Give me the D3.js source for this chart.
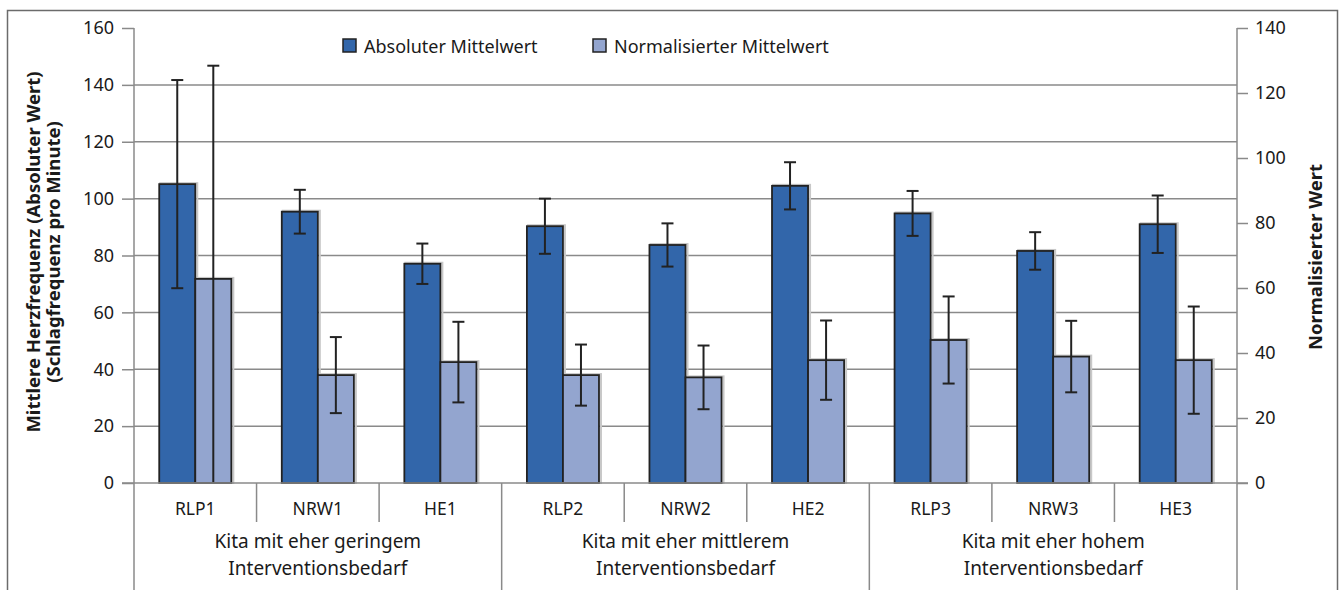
<!DOCTYPE html>
<html>
<head>
<meta charset="utf-8">
<script src="https://cdn.jsdelivr.net/npm/d3@7"></script>
<style>
  body { margin: 0; background: #fff; }
  svg { display: block; font-family: "Noto Sans", sans-serif; }
</style>
</head>
<body>
<div id="chart"></div>
<script>
// Kategorien und Gruppen
const categories = ['RLP1', 'NRW1', 'HE1', 'RLP2', 'NRW2', 'HE2', 'RLP3', 'NRW3', 'HE3'];
const groups = [
  ['Kita mit eher geringem', 'Interventionsbedarf'],
  ['Kita mit eher mittlerem', 'Interventionsbedarf'],
  ['Kita mit eher hohem', 'Interventionsbedarf']
];
const seriesNames = ['Absoluter Mittelwert', 'Normalisierter Mittelwert'];

// Werte
const absMean = [105.1, 95.4, 77.1, 90.3, 83.7, 104.5, 94.8, 81.6, 91.0];
const absSd = [36.6, 7.7, 7.1, 9.7, 7.6, 8.3, 7.9, 6.6, 10.1];
const normMean = [62.8, 33.2, 37.2, 33.2, 32.5, 37.8, 44.0, 38.9, 37.8];
const normSd = [65.6, 11.7, 12.4, 9.4, 9.8, 12.2, 13.4, 11.0, 16.5];

const leftTicks = [0, 20, 40, 60, 80, 100, 120, 140, 160];
const rightTicks = [0, 20, 40, 60, 80, 100, 120, 140];

const width = 1341, height = 590;
const plot = {left: 134, right: 1237, top: 28, bottom: 483};
const colors = ['#3266aa', '#93a5cf'];
const gridColor = '#8a8a8a';
const textColor = '#1a1a1a';

const svg = d3.select('#chart').append('svg')
  .attr('width', width)
  .attr('height', height);

// Rahmen
svg.append('rect')
  .attr('x', 7.5).attr('y', 10.5)
  .attr('width', 1330).attr('height', 640)
  .attr('fill', 'none')
  .attr('stroke', '#6b6b6b')
  .attr('stroke-width', 1.5);

const x = d3.scaleBand()
  .domain(categories)
  .range([plot.left, plot.right]);

const xInner = d3.scaleBand()
  .domain(['abs', 'norm'])
  .range([0, x.bandwidth()])
  .paddingOuter(0.7);

const yL = d3.scaleLinear().domain([0, 160]).range([plot.bottom, plot.top]);
const yR = d3.scaleLinear().domain([0, 140]).range([plot.bottom, plot.top]);

// Gitterlinien
svg.append('g')
  .selectAll('line')
  .data(leftTicks.filter(d => d > 0 && d < 160))
  .join('line')
    .attr('x1', plot.left).attr('x2', plot.right)
    .attr('y1', d => yL(d)).attr('y2', d => yL(d))
    .attr('stroke', gridColor)
    .attr('stroke-width', 1.5);

// linke Achse
const axisL = svg.append('g')
  .attr('transform', `translate(${plot.left},0)`)
  .call(d3.axisLeft(yL).tickValues(leftTicks).tickSize(12).tickPadding(8));
axisL.select('.domain').remove();
axisL.selectAll('line').attr('stroke', gridColor).attr('stroke-width', 1.5);
axisL.selectAll('text').attr('font-size', 18).attr('fill', textColor)
  .attr('font-family', '"Noto Sans", sans-serif');

// rechte Achse
const axisR = svg.append('g')
  .attr('transform', `translate(${plot.right},0)`)
  .call(d3.axisRight(yR).tickValues(rightTicks).tickSize(11).tickPadding(7));
axisR.select('.domain').remove();
axisR.selectAll('line').attr('stroke', gridColor).attr('stroke-width', 1.5);
axisR.selectAll('text').attr('font-size', 18).attr('fill', textColor)
  .attr('font-family', '"Noto Sans", sans-serif');

// senkrechte Achslinien bis nach unten
svg.append('g')
  .selectAll('line')
  .data([plot.left, plot.right])
  .join('line')
    .attr('x1', d => d).attr('x2', d => d)
    .attr('y1', plot.top).attr('y2', height)
    .attr('stroke', gridColor)
    .attr('stroke-width', 1.5);

// Balken
const rows = categories.map((c, i) => ({
  cat: c,
  bars: [
    {key: 'abs', v: absMean[i], sd: absSd[i], y: yL, color: colors[0]},
    {key: 'norm', v: normMean[i], sd: normSd[i], y: yR, color: colors[1]}
  ]
}));

const cat = svg.append('g')
  .selectAll('g')
  .data(rows)
  .join('g')
    .attr('transform', d => `translate(${x(d.cat)},0)`);

// leichter Schatten
cat.selectAll('rect.shadow')
  .data(d => d.bars)
  .join('rect')
    .attr('class', 'shadow')
    .attr('x', d => xInner(d.key) + 1)
    .attr('y', d => d.y(d.v) - 1)
    .attr('width', xInner.bandwidth() + 1)
    .attr('height', d => plot.bottom - d.y(d.v) + 1)
    .attr('fill', 'none')
    .attr('stroke', '#c8c8c8')
    .attr('stroke-width', 2);

cat.selectAll('rect.bar')
  .data(d => d.bars)
  .join('rect')
    .attr('class', 'bar')
    .attr('x', d => xInner(d.key))
    .attr('y', d => d.y(d.v))
    .attr('width', xInner.bandwidth())
    .attr('height', d => plot.bottom - d.y(d.v))
    .attr('fill', d => d.color)
    .attr('stroke', '#222')
    .attr('stroke-width', 1.8);

// Fehlerbalken
const err = cat.selectAll('g.err')
  .data(d => d.bars)
  .join('g')
    .attr('class', 'err')
    .attr('stroke', '#222')
    .attr('stroke-width', 2);

const cx = d => xInner(d.key) + xInner.bandwidth() / 2;
const hiY = d => d.y(d.v + d.sd);
const loY = d => d.y(Math.max(0, d.v - d.sd));

err.append('line')
  .attr('x1', cx).attr('x2', cx)
  .attr('y1', hiY).attr('y2', loY);
err.append('line')
  .attr('x1', d => cx(d) - 6).attr('x2', d => cx(d) + 6)
  .attr('y1', hiY).attr('y2', hiY);
err.filter(d => d.v - d.sd > 0).append('line')
  .attr('x1', d => cx(d) - 6).attr('x2', d => cx(d) + 6)
  .attr('y1', loY).attr('y2', loY);

// x-Achse
svg.append('line')
  .attr('x1', plot.left - 12).attr('x2', plot.right + 11)
  .attr('y1', plot.bottom).attr('y2', plot.bottom)
  .attr('stroke', gridColor)
  .attr('stroke-width', 1.5);

// Trennstriche zwischen Kategorien und Gruppen
svg.append('g')
  .selectAll('line')
  .data(categories.slice(1))
  .join('line')
    .attr('x1', d => x(d)).attr('x2', d => x(d))
    .attr('y1', plot.bottom)
    .attr('y2', (d, i) => (i + 1) % 3 === 0 ? height : 522)
    .attr('stroke', gridColor)
    .attr('stroke-width', 1.5);

svg.append('g')
  .selectAll('text')
  .data(categories)
  .join('text')
    .attr('x', d => x(d) + x.bandwidth() / 2)
    .attr('y', 515)
    .attr('text-anchor', 'middle')
    .attr('font-size', 17.5)
    .attr('fill', textColor)
    .text(d => d);

const gText = svg.append('g')
  .selectAll('text')
  .data(groups)
  .join('text')
    .attr('x', (d, i) => (x(categories[i * 3]) + x(categories[i * 3 + 2]) + x.bandwidth()) / 2)
    .attr('text-anchor', 'middle')
    .attr('font-size', 19)
    .attr('fill', textColor);
gText.selectAll('tspan')
  .data(d => d)
  .join('tspan')
    .attr('x', function() { return this.parentNode.getAttribute('x'); })
    .attr('y', (d, i) => 548 + i * 27)
    .text(d => d);

// Achsentitel
const titleStyle = t => t
  .attr('text-anchor', 'middle')
  .attr('font-size', 18.5)
  .attr('font-weight', 'bold')
  .attr('fill', textColor);

svg.append('text')
  .attr('transform', 'translate(40,252) rotate(-90)')
  .call(titleStyle)
  .text('Mittlere Herzfrequenz (Absoluter Wert)');
svg.append('text')
  .attr('transform', 'translate(60,252) rotate(-90)')
  .call(titleStyle)
  .text('(Schlagfrequenz pro Minute)');
svg.append('text')
  .attr('transform', 'translate(1322,257) rotate(-90)')
  .call(titleStyle)
  .text('Normalisierter Wert');

// Legende
const legendX = [343, 593];
const legend = svg.append('g')
  .selectAll('g')
  .data(seriesNames)
  .join('g')
    .attr('transform', (d, i) => `translate(${legendX[i]},39)`);
legend.append('rect')
  .attr('width', 13).attr('height', 13)
  .attr('fill', (d, i) => colors[i])
  .attr('stroke', '#222')
  .attr('stroke-width', 1.5);
legend.append('text')
  .attr('x', 21).attr('y', 13.5)
  .attr('font-size', 18)
  .attr('fill', textColor)
  .text(d => d);
</script>
</body>
</html>
